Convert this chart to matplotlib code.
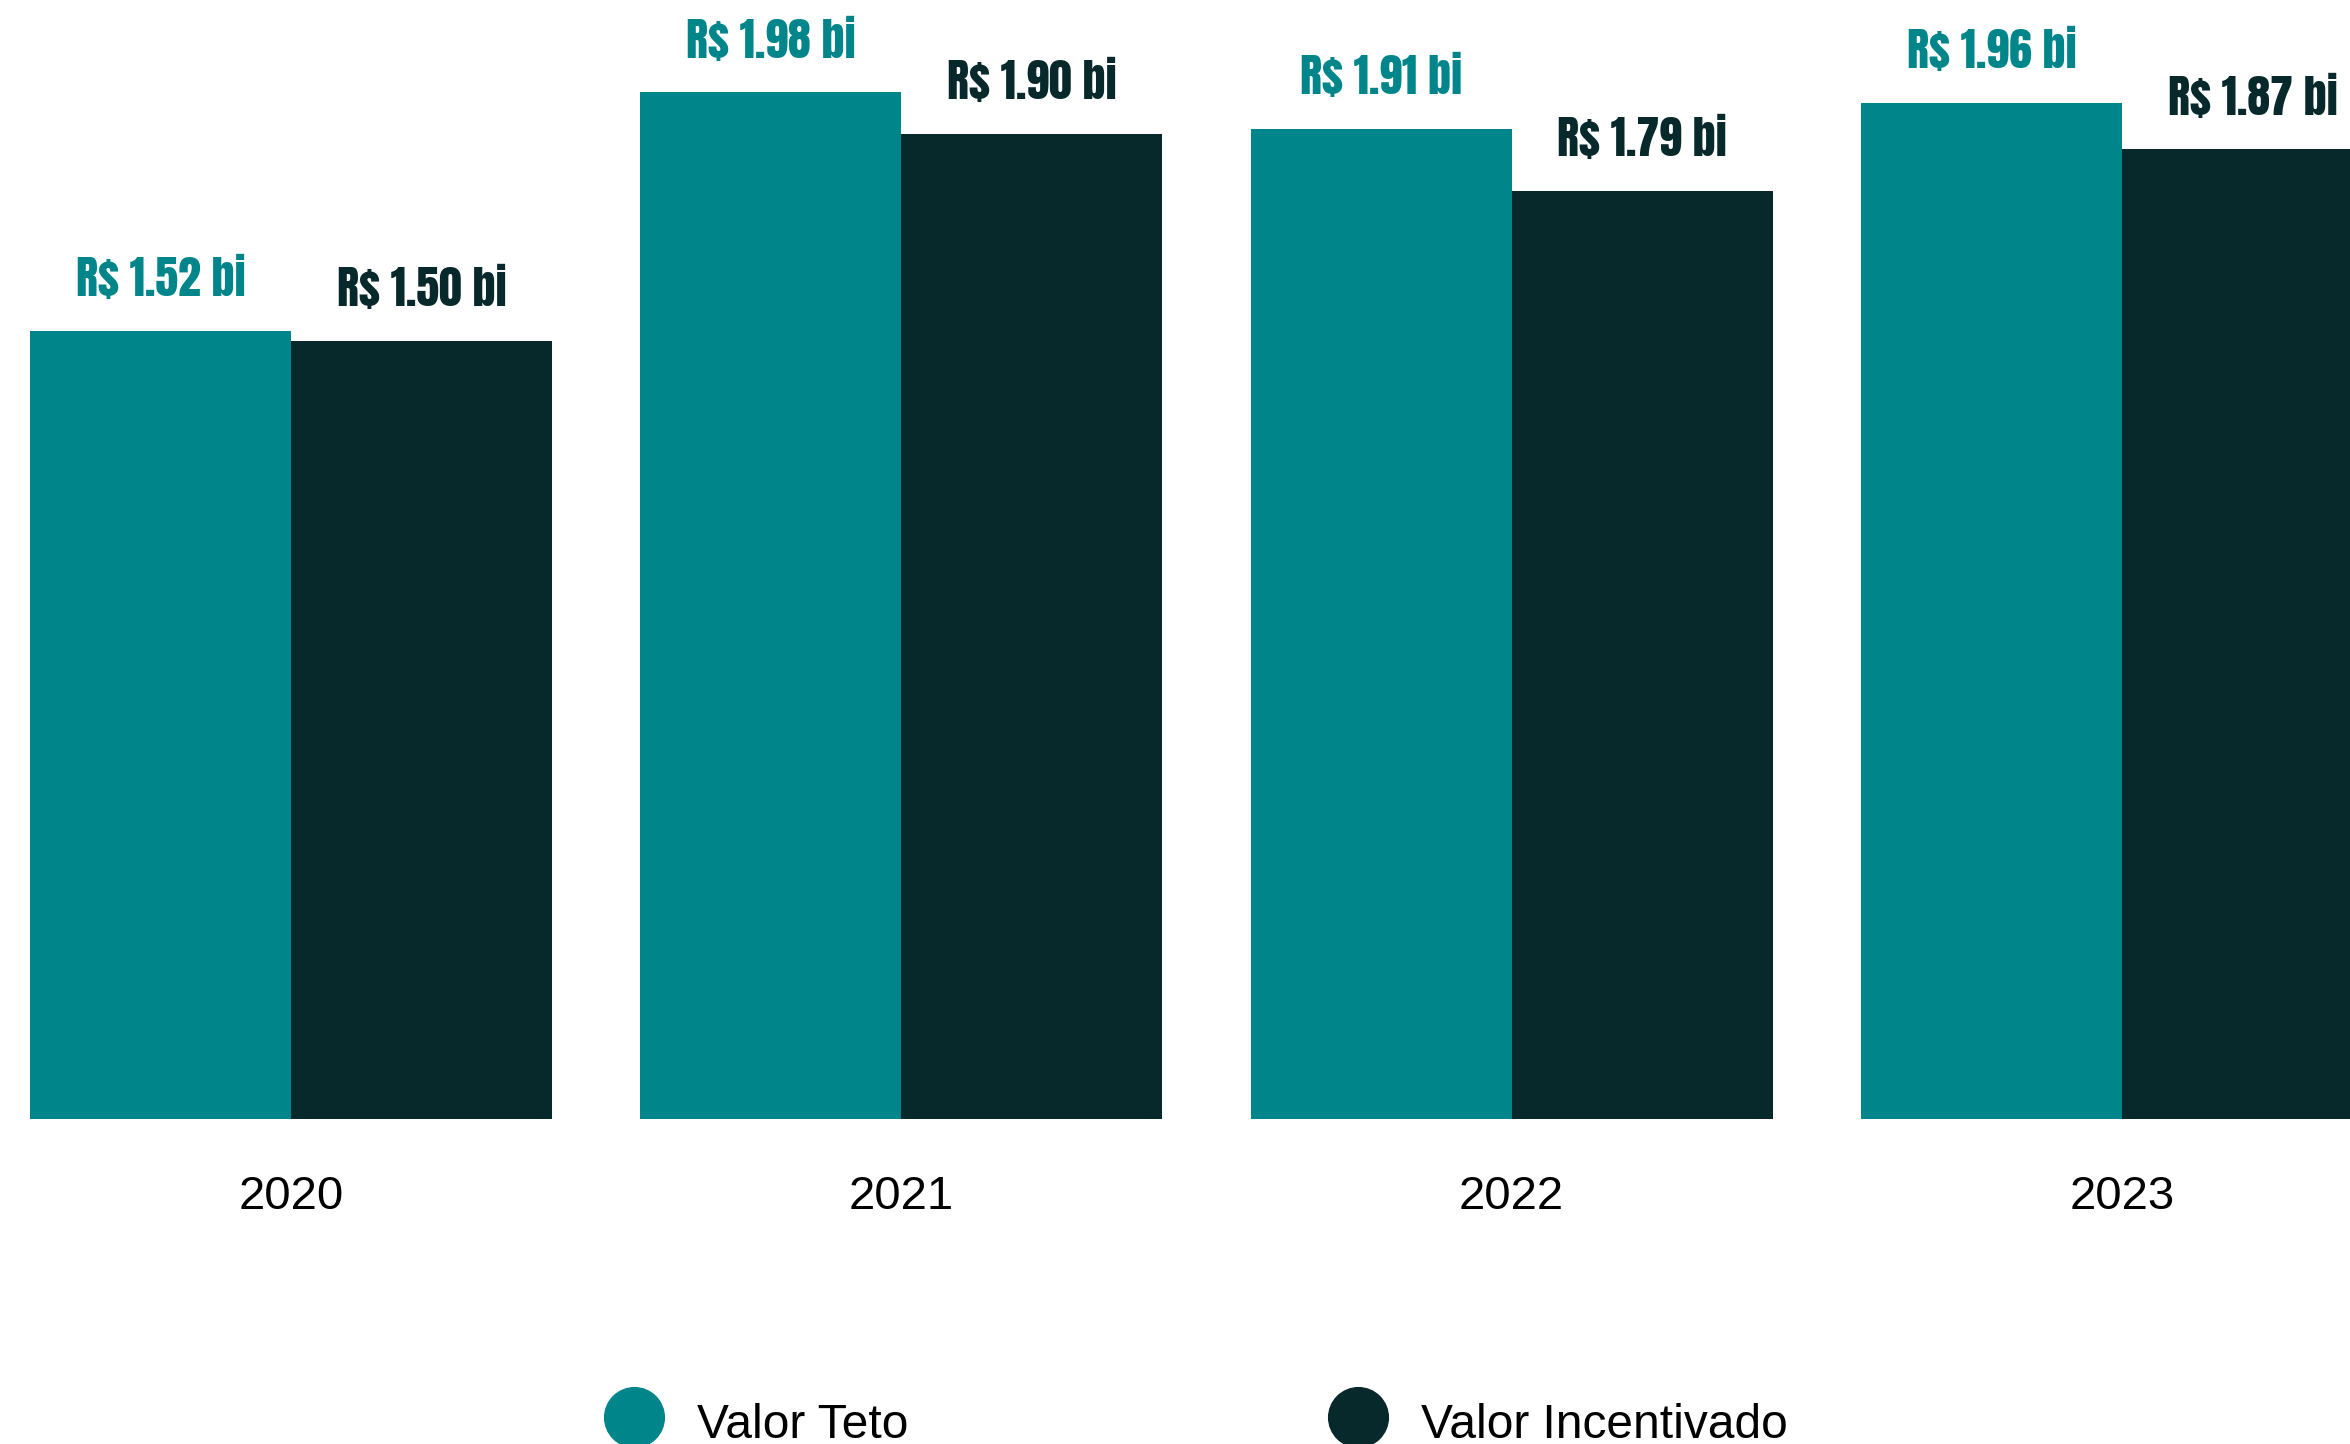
import numpy as np
import matplotlib
matplotlib.use("Agg")
import matplotlib.pyplot as plt
from matplotlib.lines import Line2D

# ── data ───────────────────────────────────────────────
years = ["2020", "2021", "2022", "2023"]
valor_teto = [1.52, 1.98, 1.91, 1.96]          # R$ bilhões
valor_incentivado = [1.50, 1.90, 1.79, 1.87]
series_names = ["Valor Teto", "Valor Incentivado"]

TEAL = "#00868A"
DARK = "#08292B"
VAL_FONT = ["Anton", "DejaVu Sans"]
TXT_FONT = ["Liberation Sans", "DejaVu Sans"]

fig = plt.figure(figsize=(23.5, 14.44), dpi=100)
ax = fig.add_axes([0, 1 - 1119 / 1444, 1, 1119 / 1444])

x = np.arange(len(years))
w = 0.4277
b1 = ax.bar(x - w / 2, valor_teto, w, color=TEAL)
b2 = ax.bar(x + w / 2, valor_incentivado, w, color=DARK)

for bars, vals, col in [(b1, valor_teto, TEAL), (b2, valor_incentivado, DARK)]:
    for r, v in zip(bars, vals):
        ax.annotate(f"R$ {v:.2f} bi", (r.get_x() + r.get_width() / 2, v),
                    xytext=(0, 37), textcoords="offset points",
                    ha="center", va="center", color=col, fontsize=33,
                    family=VAL_FONT)

ax.set_xlim(-w - 30 / 610.3, 3 + 228 / 610.3)
ax.set_ylim(0, 1119 / 518.5)
ax.set_xticks(x)
ax.set_xticklabels(years, fontsize=34, family=TXT_FONT)
ax.tick_params(axis="x", length=0, pad=40)
ax.set_yticks([])
for s in ax.spines.values():
    s.set_visible(False)

# legend along the bottom edge (partially cut off as in the original)
leg_y = 1 - 1425 / 1444
for cx, tx, col, name in [(634, 697, TEAL, series_names[0]),
                          (1358, 1421, DARK, series_names[1])]:
    fig.add_artist(Line2D([cx / 2350], [1 - 1417 / 1444], marker="o",
                          markersize=43, color=col, linestyle="none",
                          transform=fig.transFigure, clip_on=False))
    fig.text(tx / 2350, leg_y, name, fontsize=34.5, family=TXT_FONT,
             ha="left", va="center", color="black")

plt.savefig("out.png", dpi=100)
